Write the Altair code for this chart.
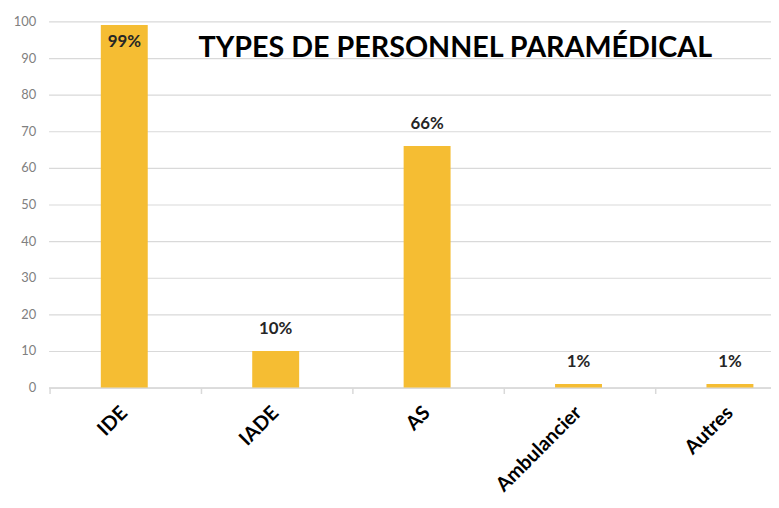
import altair as alt
import pandas as pd

categories = ["IDE", "IADE", "AS", "Ambulancier", "Autres"]
values = [99, 10, 66, 1, 1]
labels = ["99%", "10%", "66%", "1%", "1%"]
title_text = "TYPES DE PERSONNEL PARAMÉDICAL"
y_ticks = [0, 10, 20, 30, 40, 50, 60, 70, 80, 90, 100]

df = pd.DataFrame({"cat": categories, "val": values, "lab": labels})

FONT = "Lato"
BAR = "#F5BD33"

x = alt.X(
    "cat:N",
    sort=categories,
    title=None,
    scale=alt.Scale(range=[0, 765], paddingInner=0.69, paddingOuter=0.345, round=False),
    axis=alt.Axis(
        labelAngle=-45,
        labelFont=FONT,
        labelFontSize=20,
        labelFontWeight="bold",
        labelColor="#000000",
        labelPadding=9,
        labelOverlap=False,
        labelBound=False,
        domainColor="#d9d9d9",
        domainWidth=1.5,
        tickColor="#d9d9d9",
        tickSize=6,
        tickWidth=1.5,
        tickOffset=-75.6,
        labelOffset=68,
        grid=False,
    ),
)
y = alt.Y(
    "val:Q",
    title=None,
    scale=alt.Scale(domain=[0, 100], nice=False),
    axis=alt.Axis(
        values=y_ticks,
        labelOverlap=False,
        labelFont=FONT,
        labelFontSize=13,
        labelColor="#808080",
        labelPadding=13,
        domain=False,
        ticks=False,
        gridColor="#d9d9d9",
        gridWidth=1.2,
    ),
)

bars = alt.Chart(df).mark_bar(color=BAR).encode(x=x, y=y)

txt_out = alt.Chart(df).transform_filter("datum.val < 95").mark_text(
    font=FONT, fontSize=17, fontWeight="bold", color="#262626",
    baseline="bottom", dy=-13
).encode(x=x, y=y, text="lab:N")

txt_in = alt.Chart(df).transform_filter("datum.val >= 95").mark_text(
    font=FONT, fontSize=17, fontWeight="bold", color="#262626",
    baseline="top", dy=9
).encode(x=x, y=y, text="lab:N")

chart = (
    alt.layer(bars, txt_out, txt_in)
    .properties(
        width=730,
        height=370,
        autosize=alt.AutoSizeParams(type="none"),
        padding={"left": 41, "top": 11, "right": 0, "bottom": 110},
        title=alt.TitleParams(
            title_text,
            font=FONT,
            fontSize=29,
            fontWeight="bold",
            color="#000000",
            anchor="middle",
            dx=46,
            dy=52,
        ),
    )
    .configure_view(stroke=None)
)

chart.save("out.html", embed_options={"renderer": "svg", "actions": False})
